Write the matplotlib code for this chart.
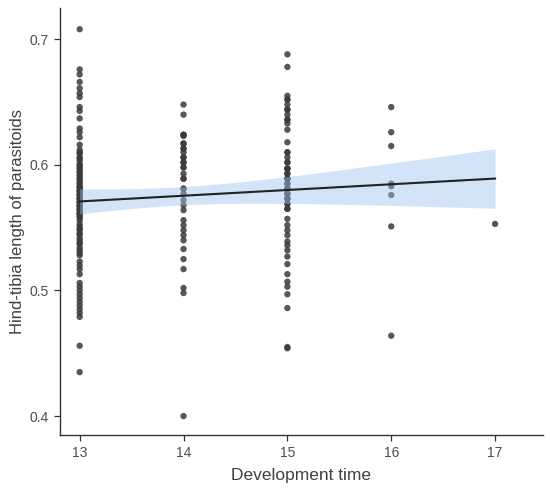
import numpy as np
import matplotlib
matplotlib.use("Agg")
import matplotlib.pyplot as plt

# hind-tibia length, grouped by development time
# (dense stretches carry repeated values, since overlapping points stack up)
dev_13 = [0.708, 0.676, 0.672, 0.666, 0.661, 0.657, 0.654, 0.646, 0.643, 0.637,
          0.629, 0.626, 0.622, 0.616, 0.612, 0.609, 0.606, 0.603, 0.600, 0.597,
          0.594, 0.591, 0.588, 0.585, 0.582, 0.579, 0.576, 0.573, 0.570, 0.567,
          0.564, 0.561, 0.558, 0.556, 0.551, 0.548, 0.545, 0.540, 0.537, 0.534,
          0.530, 0.523, 0.520, 0.517, 0.513, 0.506, 0.503, 0.500, 0.497, 0.494,
          0.491, 0.488, 0.485, 0.482, 0.479, 0.456, 0.435,
          0.610, 0.605, 0.600, 0.598, 0.595, 0.592, 0.589, 0.586, 0.583, 0.580,
          0.577, 0.574, 0.571, 0.568, 0.565, 0.562, 0.559, 0.553, 0.549, 0.545,
          0.542, 0.538, 0.532, 0.528,
          0.573, 0.570, 0.567, 0.576, 0.564, 0.579, 0.561, 0.582]
dev_14 = [0.648, 0.640, 0.624, 0.623, 0.617, 0.613, 0.610, 0.606, 0.602, 0.598,
          0.593, 0.589, 0.581, 0.577, 0.572, 0.568, 0.564, 0.556, 0.552, 0.548,
          0.544, 0.540, 0.533, 0.525, 0.517, 0.502, 0.498, 0.400,
          0.624, 0.617, 0.613, 0.606, 0.602, 0.598, 0.589, 0.581]
dev_15 = [0.688, 0.678, 0.655, 0.652, 0.648, 0.644, 0.640, 0.636, 0.633, 0.628,
          0.618, 0.610, 0.606, 0.602, 0.597, 0.593, 0.589, 0.585, 0.581, 0.577,
          0.573, 0.569, 0.565, 0.557, 0.552, 0.548, 0.544, 0.539, 0.536, 0.532,
          0.527, 0.521, 0.513, 0.507, 0.503, 0.497, 0.486, 0.455, 0.454,
          0.652, 0.644, 0.636, 0.610, 0.602, 0.597, 0.589, 0.581, 0.573, 0.565,
          0.585, 0.581, 0.577, 0.593, 0.589, 0.569, 0.597, 0.573]
dev_16 = [0.646, 0.626, 0.615, 0.585, 0.583, 0.576, 0.551, 0.464]
dev_17 = [0.553]

groups = {13: dev_13, 14: dev_14, 15: dev_15, 16: dev_16, 17: dev_17}

x_ticks = [13, 14, 15, 16, 17]
y_ticks = [0.4, 0.5, 0.6, 0.7]


def main():
    plt.rcParams["font.family"] = ["Liberation Sans", "DejaVu Sans"]

    x = np.concatenate([[k] * len(v) for k, v in groups.items()]).astype(float)
    y = np.concatenate([v for v in groups.values()])

    # linear fit with 95% confidence band
    slope, intercept = np.polyfit(x, y, 1)
    n = len(x)
    resid = y - (slope * x + intercept)
    s = np.sqrt(np.sum(resid ** 2) / (n - 2))
    sxx = np.sum((x - x.mean()) ** 2)
    xs = np.linspace(x.min(), x.max(), 100)
    fit = slope * xs + intercept
    se = s * np.sqrt(1 / n + (xs - x.mean()) ** 2 / sxx)
    t_crit = 1.97

    fig = plt.figure(figsize=(5.5, 4.92), dpi=100)
    ax = fig.add_axes([0.109, 0.116, 0.878, 0.868])

    ax.scatter(x, y, s=21, color="#3a3a3a", alpha=0.85, edgecolors="none", zorder=2)
    ax.fill_between(xs, fit - t_crit * se, fit + t_crit * se,
                    color="#9ec2f0", alpha=0.45, linewidth=0, zorder=3)
    ax.plot(xs, fit, color="#222222", linewidth=1.5, zorder=4)

    ax.set_xlim(12.81, 17.46)
    ax.set_ylim(0.385, 0.725)
    ax.set_xticks(x_ticks)
    ax.set_yticks(y_ticks)
    ax.set_yticklabels([str(t) for t in y_ticks])

    for side in ["top", "right"]:
        ax.spines[side].set_visible(False)
    for side in ["left", "bottom"]:
        ax.spines[side].set_color("#333333")
        ax.spines[side].set_linewidth(1.0)
    ax.tick_params(direction="out", length=4, width=0.9, color="#333333",
                   labelsize=10, labelcolor="#4d4d4d", pad=4)

    ax.set_xlabel("Development time", fontsize=12.5, color="#404040", labelpad=6)
    ax.set_ylabel("Hind-tibia length of parasitoids", fontsize=12, color="#404040", labelpad=3)

    fig.savefig("out.png", dpi=100)


if __name__ == "__main__":
    main()
